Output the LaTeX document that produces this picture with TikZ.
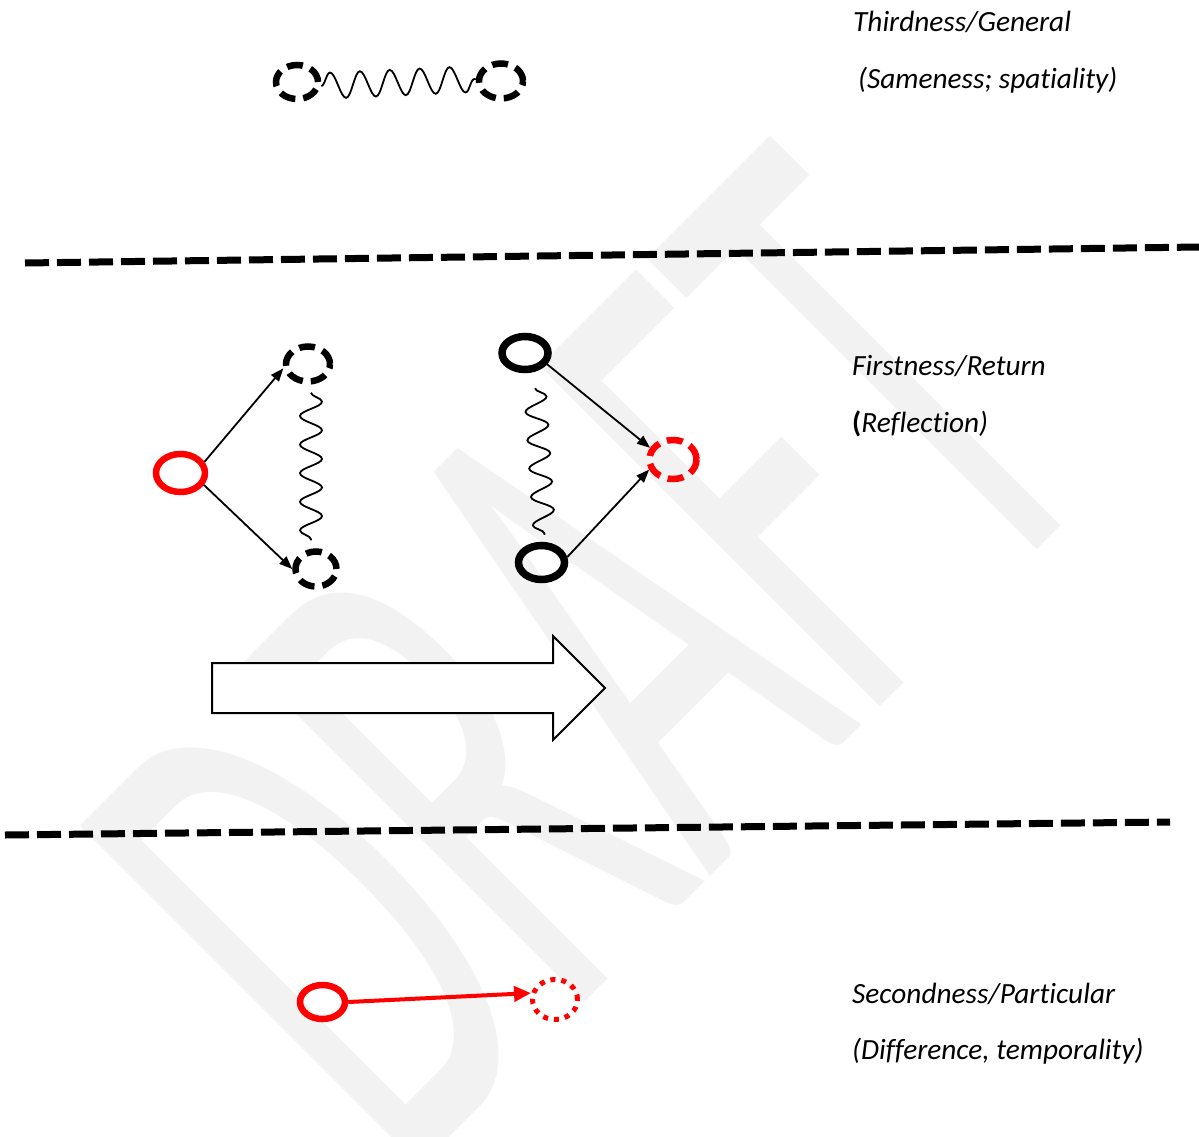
\documentclass[tikz,border=0pt]{standalone}
\usepackage{fontspec}
\setmainfont{Carlito}[Ligatures=CommonOff]
\usepackage{tikz}
\usetikzlibrary{shapes.geometric, arrows.meta, decorations.pathmorphing, calc}

\begin{document}
\begin{tikzpicture}[
    x=1pt, y=-1pt,
    ring/.style={ellipse, draw=#1, line width=6.5pt, inner sep=0pt, minimum width=46pt, minimum height=35pt},
    ring/.default=black,
    dashring/.style={ring=#1, dash pattern=on 16pt off 8pt},
    dashring/.default=black,
    dotring/.style={ring=#1, line width=5pt, dash pattern=on 5pt off 6pt},
    dotring/.default=red,
    link/.style={-{Triangle[length=13pt, width=10pt]}, line width=1.8pt},
    wave/.style={decorate, decoration={snake, amplitude=12pt, segment length=30pt}, line width=1.8pt},
    divider/.style={line width=7pt, dash pattern=on 24pt off 8pt},
    phase/.style={anchor=base west, inner sep=0pt, font=\fontsize{29.3}{35}\selectfont\itshape}
]
\useasboundingbox (0,0) rectangle (1199,1137);

% Watermark
\begin{scope}[shift={(758,829)}, rotate=45, xscale=0.5]
    \node[transform shape, anchor=base, inner sep=0pt, text=black!5, font=\fontsize{750}{750}\selectfont] (draft) at (0,0) {DRAFT};
\end{scope}

% Dividers
\draw[divider] (25,263) -- (1199,247);
\draw[divider] (5,835) -- (1170,822);

% Thirdness
\node[dashring, minimum width=42pt, minimum height=34pt] (t1) at (297,82) {};
\node[dashring, minimum width=44pt, minimum height=35pt] (t2) at (501,81) {};
\draw[wave, decoration={amplitude=13pt, segment length=29.9pt}] ($(t1.east)+(0,4)$) -- ($(t2.west)+(0,-2)$);

% Firstness, left group
\node[ring=red, minimum width=49pt, minimum height=38pt] (r1) at (180.5,473) {};
\node[dashring, minimum width=44pt, minimum height=35pt] (d1) at (308,364) {};
\node[dashring, minimum width=41pt, minimum height=35pt] (d2) at (316,569) {};
\draw[link] (r1.25) -- (d1.190);
\draw[link] (r1.-27) -- (d2.west);
\draw[wave, decoration={amplitude=11pt, segment length=28.6pt}] ($(d1.south)+(3,8)$) -- ($(d2.north)+(-5,-8)$);

% Firstness, right group
\node[ring, line width=7.5pt, minimum width=46pt, minimum height=33pt] (b1) at (525,353) {};
\node[ring, line width=7.5pt, minimum width=46pt, minimum height=34pt] (b2) at (541.5,562.5) {};
\node[dashring=red, minimum width=47pt, minimum height=39pt] (rd) at (673,459.5) {};
\draw[link] (b1.-27) -- (rd.153);
\draw[link] (b2.12) -- (rd.203);
\draw[wave, decoration={amplitude=11pt, segment length=28.4pt}] ($(b1.south)+(10,15)$) -- ($(b2.north)+(3,-7)$);

% Block arrow
\draw[line width=2pt, fill=white] (212,663) -- (553,663) -- (553,636) -- (605,688) -- (553,740) -- (553,713) -- (212,713) -- cycle;

% Secondness
\node[ring=red, minimum width=45pt, minimum height=34pt] (s1) at (322.5,1002) {};
\node[dotring, minimum width=45pt, minimum height=40pt] (s2) at (555,999.5) {};
\draw[red, line width=4pt, -{Triangle[length=17pt, width=15pt]}] (s1.east) -- (s2.165);

% Labels
\node[phase] (third) at (853,32) {Thirdness/General};
\node[phase] (thirdsub) at (858,89) {(Sameness; spatiality)};
\node[phase] (first) at (852,375) {Firstness/Return};
\node[phase] (firstsub) at (852,432) {\textbf{\upshape (}Reflection)};
\node[phase] (second) at (852,1003) {Secondness/Particular};
\node[phase] (secondsub) at (852,1059) {(Difference, temporality)};

\end{tikzpicture}
\end{document}
